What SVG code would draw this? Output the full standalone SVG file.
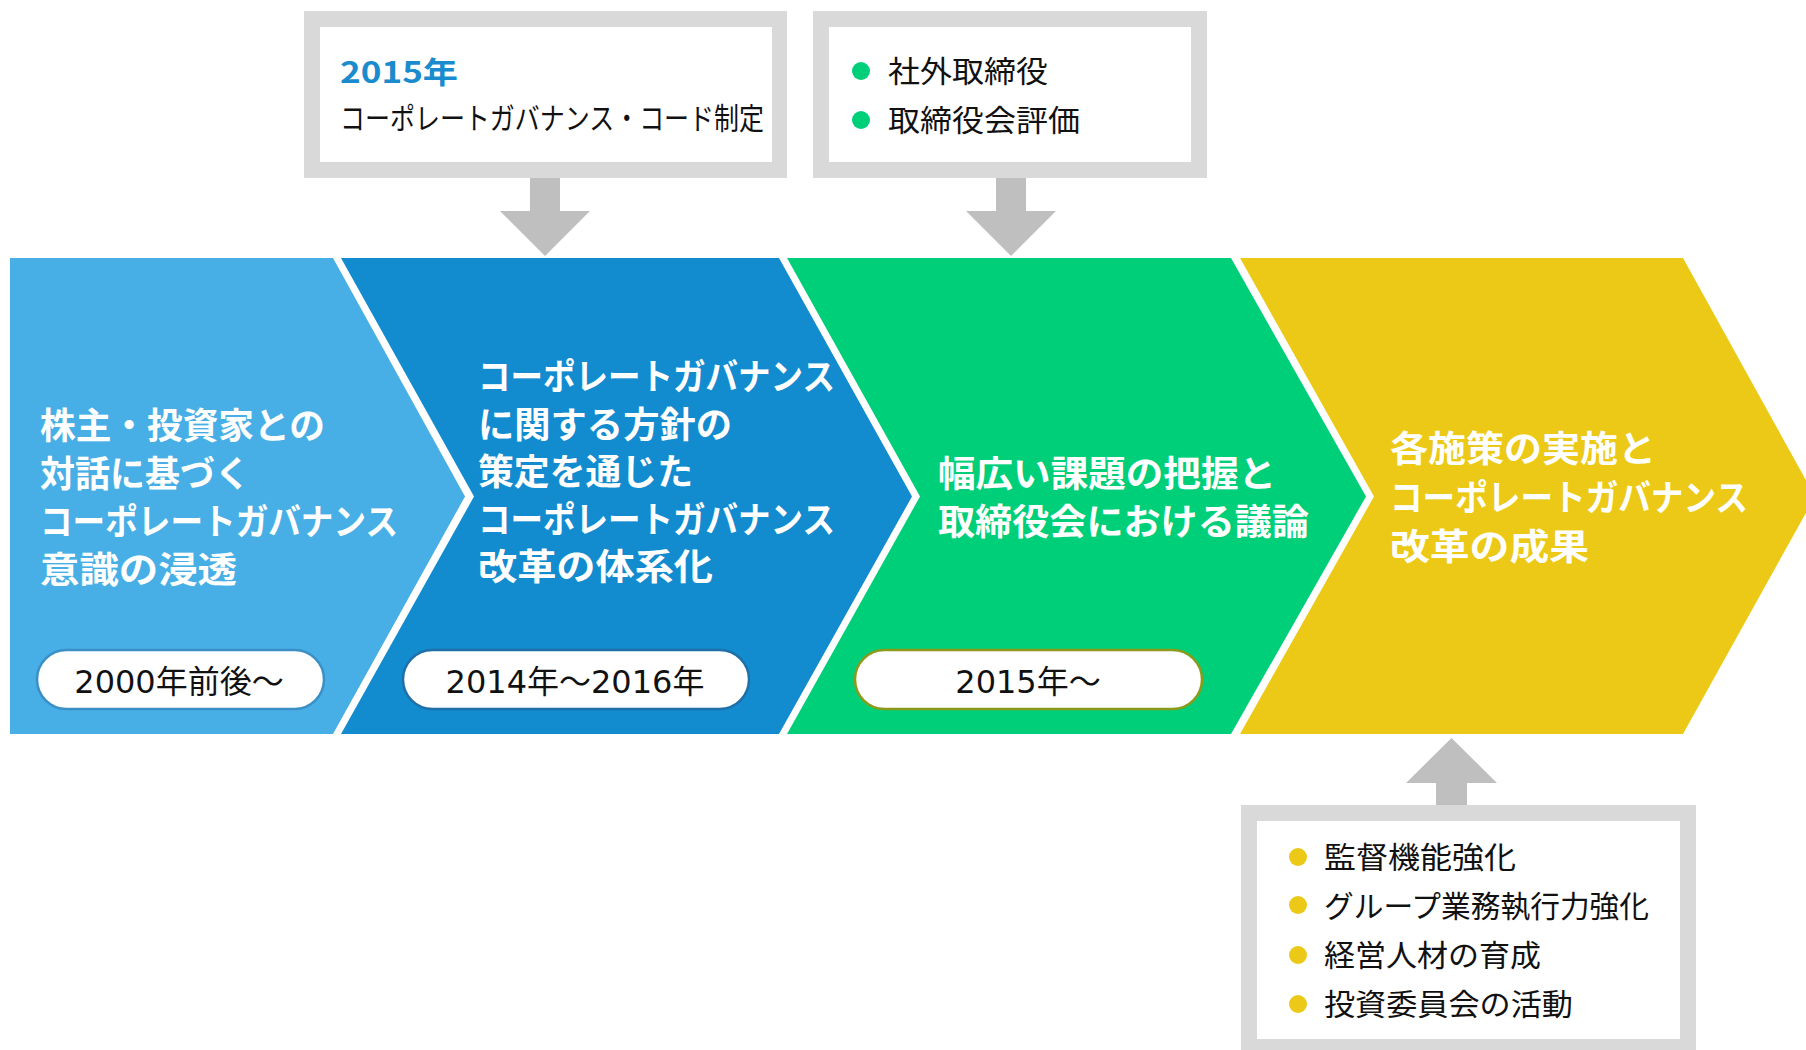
<svg xmlns="http://www.w3.org/2000/svg" width="1806" height="1050" viewBox="0 0 1806 1050">
<style>
.frame{fill:#D9D9D9}
.inner{fill:#FFFFFF}
.arrow{fill:#BFBFBF}
.head{font-family:"Noto Sans CJK JP","Noto Sans",sans-serif;font-weight:700;font-size:36px;fill:#FFFFFF}
.body{font-family:"Noto Sans CJK JP","Noto Sans",sans-serif;font-size:30px;fill:#111111}
.year{font-family:"Noto Sans CJK JP","Noto Sans",sans-serif;font-weight:700;font-size:30px;fill:#1A8BCC}
.pill{fill:#FFFFFF;stroke-width:2.5}
.pilltxt{font-family:"DejaVu Sans","Noto Sans CJK JP",sans-serif;font-size:32px;fill:#111111;text-anchor:middle}
</style>

<g id="connectors">
  <polygon class="arrow" points="530,178 560,178 560,211 590,211 545,256 500,211 530,211"/>
  <polygon class="arrow" points="996,178 1026,178 1026,211 1056,211 1011,256 966,211 996,211"/>
  <polygon class="arrow" points="1436,806 1467,806 1467,783 1497,783 1451.5,738 1406,783 1436,783"/>
</g>

<g id="chevron1">
  <polygon fill="#47AFE5" points="10,258 333,258 465,496.5 333,734 10,734"/>
  <text class="head" x="40" y="439" textLength="285" lengthAdjust="spacingAndGlyphs">株主・投資家との</text>
  <text class="head" x="40" y="487" textLength="210" lengthAdjust="spacingAndGlyphs">対話に基づく</text>
  <text class="head" x="40" y="535" textLength="358" lengthAdjust="spacingAndGlyphs">コーポレートガバナンス</text>
  <text class="head" x="40" y="583" textLength="197" lengthAdjust="spacingAndGlyphs">意識の浸透</text>
  <rect class="pill" x="37" y="650" width="287" height="59" rx="29.5" stroke="#3A8FC6"/>
  <text class="pilltxt" x="179" y="693">2000年前後～</text>
</g>

<g id="chevron2">
  <polygon fill="#138BCF" points="341,258 779,258 912,496.5 779,734 341,734 474,496.5"/>
  <text class="head" x="478" y="390" textLength="357" lengthAdjust="spacingAndGlyphs">コーポレートガバナンス</text>
  <text class="head" x="478" y="437.5" textLength="254" lengthAdjust="spacingAndGlyphs">に関する方針の</text>
  <text class="head" x="478" y="485" textLength="215" lengthAdjust="spacingAndGlyphs">策定を通じた</text>
  <text class="head" x="478" y="532.5" textLength="357" lengthAdjust="spacingAndGlyphs">コーポレートガバナンス</text>
  <text class="head" x="478" y="580" textLength="235" lengthAdjust="spacingAndGlyphs">改革の体系化</text>
  <rect class="pill" x="403" y="650" width="346" height="59" rx="29.5" stroke="#1F6FA8"/>
  <text class="pilltxt" x="575" y="693">2014年～2016年</text>
</g>

<g id="chevron3">
  <polygon fill="#00CF7A" points="787,258 1231,258 1366,496.5 1231,734 787,734 920,496.5"/>
  <text class="head" x="938" y="487" textLength="338" lengthAdjust="spacingAndGlyphs">幅広い課題の把握と</text>
  <text class="head" x="938" y="535" textLength="371" lengthAdjust="spacingAndGlyphs">取締役会における議論</text>
  <rect class="pill" x="855" y="650" width="347" height="59" rx="29.5" stroke="#8C9A1A"/>
  <text class="pilltxt" x="1028" y="693">2015年～</text>
</g>

<g id="chevron4">
  <polygon fill="#ECC916" points="1240,258 1683,258 1815,496.5 1683,734 1240,734 1374,496.5"/>
  <text class="head" x="1390" y="462" textLength="266" lengthAdjust="spacingAndGlyphs">各施策の実施と</text>
  <text class="head" x="1390" y="511" textLength="358" lengthAdjust="spacingAndGlyphs">コーポレートガバナンス</text>
  <text class="head" x="1390" y="560" textLength="199" lengthAdjust="spacingAndGlyphs">改革の成果</text>
</g>

<g id="box-code">
  <rect class="frame" x="304" y="11" width="483" height="167"/>
  <rect class="inner" x="320" y="27" width="452" height="135"/>
  <text class="year" x="340" y="83" textLength="118" lengthAdjust="spacingAndGlyphs">2015年</text>
  <text class="body" x="340" y="129" textLength="424" lengthAdjust="spacingAndGlyphs">コーポレートガバナンス・コード制定</text>
</g>

<g id="box-board">
  <rect class="frame" x="813" y="11" width="394" height="167"/>
  <rect class="inner" x="829" y="27" width="362" height="135"/>
  <circle cx="861" cy="71" r="9" fill="#00CF7A"/>
  <circle cx="861" cy="120" r="9" fill="#00CF7A"/>
  <text class="body" x="888" y="82" textLength="160" lengthAdjust="spacingAndGlyphs">社外取締役</text>
  <text class="body" x="888" y="131" textLength="192" lengthAdjust="spacingAndGlyphs">取締役会評価</text>
</g>

<g id="box-results">
  <rect class="frame" x="1241" y="805" width="455" height="260"/>
  <rect class="inner" x="1257" y="821" width="423" height="218"/>
  <circle cx="1298" cy="857" r="9" fill="#ECC916"/>
  <circle cx="1298" cy="905" r="9" fill="#ECC916"/>
  <circle cx="1298" cy="955" r="9" fill="#ECC916"/>
  <circle cx="1298" cy="1004" r="9" fill="#ECC916"/>
  <text class="body" x="1324" y="868" textLength="192" lengthAdjust="spacingAndGlyphs">監督機能強化</text>
  <text class="body" x="1324" y="917" textLength="325" lengthAdjust="spacingAndGlyphs">グループ業務執行力強化</text>
  <text class="body" x="1324" y="966" textLength="217" lengthAdjust="spacingAndGlyphs">経営人材の育成</text>
  <text class="body" x="1324" y="1015" textLength="249" lengthAdjust="spacingAndGlyphs">投資委員会の活動</text>
</g>
</svg>
